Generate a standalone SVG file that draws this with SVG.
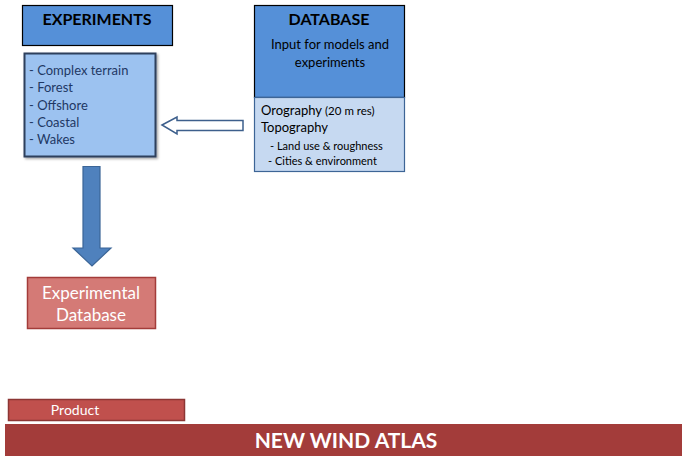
<svg xmlns="http://www.w3.org/2000/svg" width="682" height="456" viewBox="0 0 682 456">
<style>
text{font-family:Lato,"Open Sans","Liberation Sans",sans-serif}
.hdr{fill:#5590d8;stroke:#000;stroke-width:1.2}
.ttl{font-weight:bold;font-size:16px;fill:#000;text-anchor:middle}
.list{font-size:13px;fill:#1f3864}
.dbl{font-size:13px;fill:#000}
.sm{font-size:11px;fill:#000}
.wt{fill:#fff;text-anchor:middle}
</style>
<defs>
<filter id="sh" x="-10%" y="-10%" width="130%" height="130%"><feDropShadow dx="1.5" dy="1.5" stdDeviation="1.2" flood-color="#000" flood-opacity="0.35"/></filter>
</defs>
<rect width="682" height="456" fill="#fff"/>
<g id="experiments">
<rect class="hdr" x="22.5" y="5.5" width="150" height="40"/>
<text class="ttl" x="97" y="25">EXPERIMENTS</text>
</g>
<g id="experiment-list">
<rect x="24.5" y="53.5" width="131" height="103" fill="#9cc2f0" stroke="#2d3f5c" stroke-width="2" filter="url(#sh)"/>
<text class="list" x="29" y="75">- Complex terrain</text>
<text class="list" x="29" y="92">- Forest</text>
<text class="list" x="29" y="110">- Offshore</text>
<text class="list" x="29" y="127">- Coastal</text>
<text class="list" x="29" y="144">- Wakes</text>
</g>
<g id="database">
<rect class="hdr" x="254.5" y="5.5" width="150" height="92"/>
<text class="ttl" x="329" y="25">DATABASE</text>
<text class="dbl" x="330" y="49" text-anchor="middle">Input for models and</text>
<text class="dbl" x="330" y="67" text-anchor="middle">experiments</text>
</g>
<g id="database-content">
<rect x="254.5" y="97.5" width="150" height="74" fill="#c6d9f1" stroke="#3d6596" stroke-width="1.2"/>
<text class="dbl" x="261" y="115">Orography <tspan font-size="11.5px">(20 m res)</tspan></text>
<text class="dbl" x="261" y="132">Topography</text>
<text class="sm" x="270" y="150">- Land use &amp; roughness</text>
<text class="sm" x="268" y="165">- Cities &amp; environment</text>
</g>
<g id="experimental-database">
<rect x="27.5" y="277.5" width="128" height="51" fill="#d47a76" stroke="#a33c3a" stroke-width="1.5"/>
<text class="wt" x="91" y="299" font-size="17px">Experimental</text>
<text class="wt" x="91" y="321" font-size="17px">Database</text>
</g>
<g id="product">
<rect x="8.5" y="399.5" width="176" height="21" fill="#c0504d" stroke="#8c3634" stroke-width="1.5"/>
<text class="wt" x="75" y="415" font-size="14px">Product</text>
</g>
<g id="new-wind-atlas">
<rect x="5" y="424" width="677" height="32" fill="#a33c3a"/>
<text class="wt" x="346" y="448" font-size="21px" font-weight="bold">NEW WIND ATLAS</text>
</g>
<g id="connectors">
<path d="M162,125 L177,117 L177,120.5 L243,120.5 L243,130.5 L177,130.5 L177,134 Z" fill="#fff" stroke="#3d5f8c" stroke-width="1.5"/>
<path d="M83,166.5 L100,166.5 L100,248 L111,248 L92,266 L73,248 L83,248 Z" fill="#4f81bd" stroke="#3b6597" stroke-width="1.2"/>
</g>
</svg>
